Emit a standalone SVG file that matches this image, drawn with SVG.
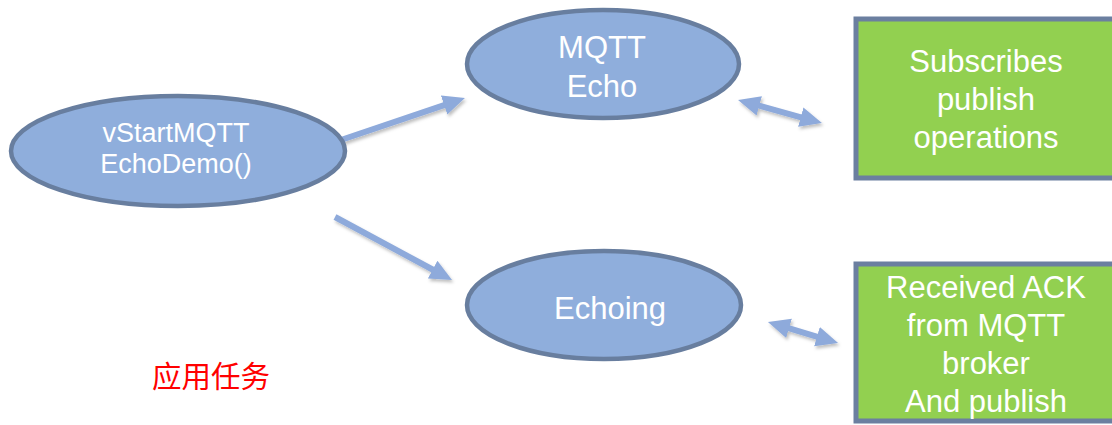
<svg xmlns="http://www.w3.org/2000/svg" width="1112" height="425" viewBox="0 0 1112 425">
<style>
.node ellipse{fill:#8FAEDC;stroke:#687E9F;stroke-width:4.5}
.box rect{fill:#92D050;stroke:#6B7FA0;stroke-width:5}
.t{font-family:"Liberation Sans",Arial,sans-serif;fill:#FFFFFF;text-anchor:middle}
.conn line{stroke:#8EAADB;stroke-width:6;fill:none;filter:url(#sh)}
.cn{font-family:"Liberation Sans","Noto Sans CJK SC",sans-serif;fill:#FF0000;font-size:29.5px}
</style>
<defs>
<marker id="ah" markerUnits="userSpaceOnUse" markerWidth="24" markerHeight="22" viewBox="0 0 24 22" refX="4" refY="11" orient="auto-start-reverse">
<path d="M0,1 L22,11 L0,21 z" fill="#8EAADB"/>
</marker>
<filter id="sh" filterUnits="userSpaceOnUse" x="0" y="0" width="1112" height="425">
<feDropShadow dx="1.5" dy="2.5" stdDeviation="1.5" flood-color="#000" flood-opacity="0.25"/>
</filter>
</defs>
<rect width="1112" height="425" fill="#FFFFFF"/>
<g id="connectors" class="conn">
<line x1="335" y1="142" x2="447.9" y2="103.8" marker-end="url(#ah)"/>
<line x1="335" y1="217" x2="436.2" y2="271.5" marker-end="url(#ah)"/>
<line x1="755.4" y1="104.7" x2="804.6" y2="118.3" marker-start="url(#ah)" marker-end="url(#ah)"/>
<line x1="785.2" y1="327.2" x2="820.8" y2="337.8" marker-start="url(#ah)" marker-end="url(#ah)"/>
</g>
<g id="start" class="node">
<ellipse cx="178" cy="151" rx="167" ry="55"/>
<text class="t" x="176" y="142" font-size="27">vStartMQTT</text>
<text class="t" x="176" y="173" font-size="27">EchoDemo()</text>
</g>
<g id="mqttecho" class="node">
<ellipse cx="603" cy="64" rx="136" ry="54"/>
<text class="t" x="602" y="58" font-size="31">MQTT</text>
<text class="t" x="602" y="97" font-size="31">Echo</text>
</g>
<g id="echoing" class="node">
<ellipse cx="604" cy="305" rx="137" ry="54"/>
<text class="t" x="610" y="319" font-size="31">Echoing</text>
</g>
<g id="subscribes" class="box">
<rect x="856" y="19" width="270" height="159"/>
<text class="t" x="986" y="72" font-size="31">Subscribes</text>
<text class="t" x="986" y="110" font-size="31">publish</text>
<text class="t" x="986" y="148" font-size="31">operations</text>
</g>
<g id="received" class="box">
<rect x="856" y="264" width="270" height="157"/>
<text class="t" x="986" y="298" font-size="31">Received ACK</text>
<text class="t" x="986" y="336" font-size="31">from MQTT</text>
<text class="t" x="986" y="374" font-size="31">broker</text>
<text class="t" x="986" y="412" font-size="31">And publish</text>
</g>
<g id="label">
<text class="cn" x="152" y="387">应用任务</text>
</g>
</svg>
